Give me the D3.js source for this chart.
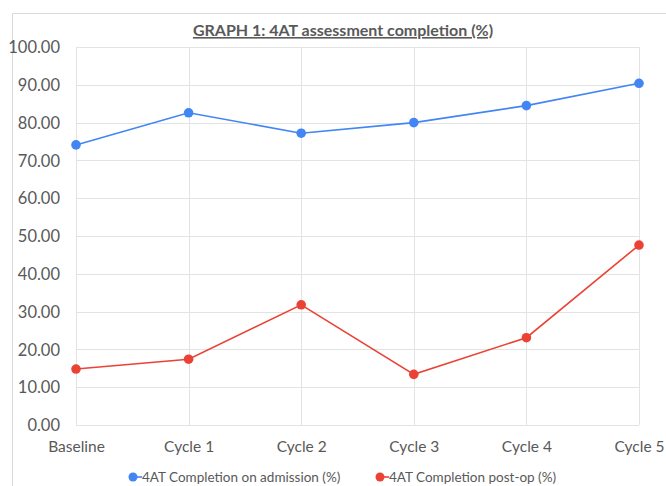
<!DOCTYPE html>
<html>
<head>
<meta charset="utf-8">
<style>
  body{ margin:0; background:#fff; }
  #vis{ display:block; }
</style>
<script src="https://d3js.org/d3.v7.min.js"></script>
</head>
<body>
<svg id="vis"></svg>
<script>
  var width = 666,
    height = 486,
    margin = {top: 47, left: 76, right: 27, bottom: 62},
    //colors
    blue = "#4285f4",
    red = "#ea4335",
    textColor = "#595959",
    gridColor = "#e3e3e3";

  // data
  var categories = ["Baseline", "Cycle 1", "Cycle 2", "Cycle 3", "Cycle 4", "Cycle 5"];
  var onAdmission = [74.1, 82.6, 77.2, 80.0, 84.5, 90.4];
  var postOp = [14.8, 17.4, 31.8, 13.4, 23.1, 47.6];
  var yTicks = [0, 10, 20, 30, 40, 50, 60, 70, 80, 90, 100];
  var seriesNames = ["4AT Completion on admission (%)", "4AT Completion post-op (%)"];

  var series = [
    {name: seriesNames[0], values: onAdmission, color: blue},
    {name: seriesNames[1], values: postOp, color: red}
  ];

  var svg = d3.select("#vis")
    .attr("width", width)
    .attr("height", height)
    .style("font-family", "Lato, 'Open Sans', sans-serif");

  // chart border (cropped excel frame)
  svg.append("path")
    .attr("d", "M12.5," + height + "V13.5H" + width)
    .style("fill", "none")
    .style("stroke", "#d9d9d9")
    .style("stroke-width", 1);

  // scales
  var x = d3.scalePoint()
    .domain(categories)
    .range([margin.left, width - margin.right]);

  var y = d3.scaleLinear()
    .domain([0, 100])
    .range([height - margin.bottom + 1, margin.top]);

  // grid -------------------------------------------------
  svg.append("g")
    .selectAll("line")
    .data(yTicks)
    .enter().append("line")
    .attr("x1", margin.left)
    .attr("x2", width - margin.right)
    .attr("y1", d => Math.round(y(d)) + 0.5)
    .attr("y2", d => Math.round(y(d)) + 0.5)
    .style("stroke", gridColor);

  svg.append("g")
    .selectAll("line")
    .data(categories)
    .enter().append("line")
    .attr("x1", d => Math.round(x(d)) + 0.5)
    .attr("x2", d => Math.round(x(d)) + 0.5)
    .attr("y1", y(100))
    .attr("y2", y(0))
    .style("stroke", gridColor);

  // axes -------------------------------------------------
  var yAxis = svg.append("g")
    .attr("transform", "translate(" + (margin.left - 16) + ",0)")
    .call(d3.axisLeft(y).tickValues(yTicks).tickSize(0).tickFormat(d3.format(".2f")));
  yAxis.select(".domain").remove();
  yAxis.selectAll("text")
    .attr("x", 0)
    .attr("dy", "0.35em")
    .style("font-size", "16.5px")
    .style("font-family", "Lato, 'Open Sans', sans-serif")
    .style("fill", textColor);

  var xAxis = svg.append("g")
    .attr("transform", "translate(0," + y(0) + ")")
    .call(d3.axisBottom(x).tickSize(0));
  xAxis.select(".domain").remove();
  xAxis.selectAll("text")
    .attr("y", 22)
    .attr("dy", "0.35em")
    .style("font-size", "15.5px")
    .style("font-family", "Lato, 'Open Sans', sans-serif")
    .style("fill", textColor);

  // lines + markers -------------------------------------------------
  var line = d3.line()
    .x((d, i) => x(categories[i]))
    .y(d => y(d));

  var sg = svg.selectAll(".series")
    .data(series)
    .enter().append("g")
    .attr("class", "series");

  sg.append("path")
    .attr("d", d => line(d.values))
    .style("fill", "none")
    .style("stroke", d => d.color)
    .style("stroke-width", 1.6);

  sg.each(function(s) {
    d3.select(this).selectAll("circle")
      .data(s.values)
      .enter().append("circle")
      .attr("cx", (d, i) => x(categories[i]))
      .attr("cy", d => y(d))
      .attr("r", 4.8)
      .style("fill", s.color);
  });

  // title -------------------------------------------------
  svg.append("text")
    .attr("x", 343)
    .attr("y", 36)
    .attr("text-anchor", "middle")
    .style("font-size", "16px")
    .style("font-weight", "bold")
    .style("text-decoration", "underline")
    .style("fill", textColor)
    .text("GRAPH 1: 4AT assessment completion (%)");

  // legend -------------------------------------------------
  var legendX = [133, 380];
  var lg = svg.selectAll(".legend")
    .data(series)
    .enter().append("g")
    .attr("class", "legend")
    .attr("transform", (d, i) => "translate(" + legendX[i] + ",477)");

  lg.append("line")
    .attr("x1", -3).attr("x2", 9)
    .style("stroke", d => d.color)
    .style("stroke-width", 1.6);
  lg.append("circle")
    .attr("r", 4.5)
    .style("fill", d => d.color);
  lg.append("text")
    .attr("x", 9)
    .attr("dy", "0.35em")
    .style("font-size", "13.5px")
    .style("fill", textColor)
    .text(d => d.name);
</script>
</body>
</html>
